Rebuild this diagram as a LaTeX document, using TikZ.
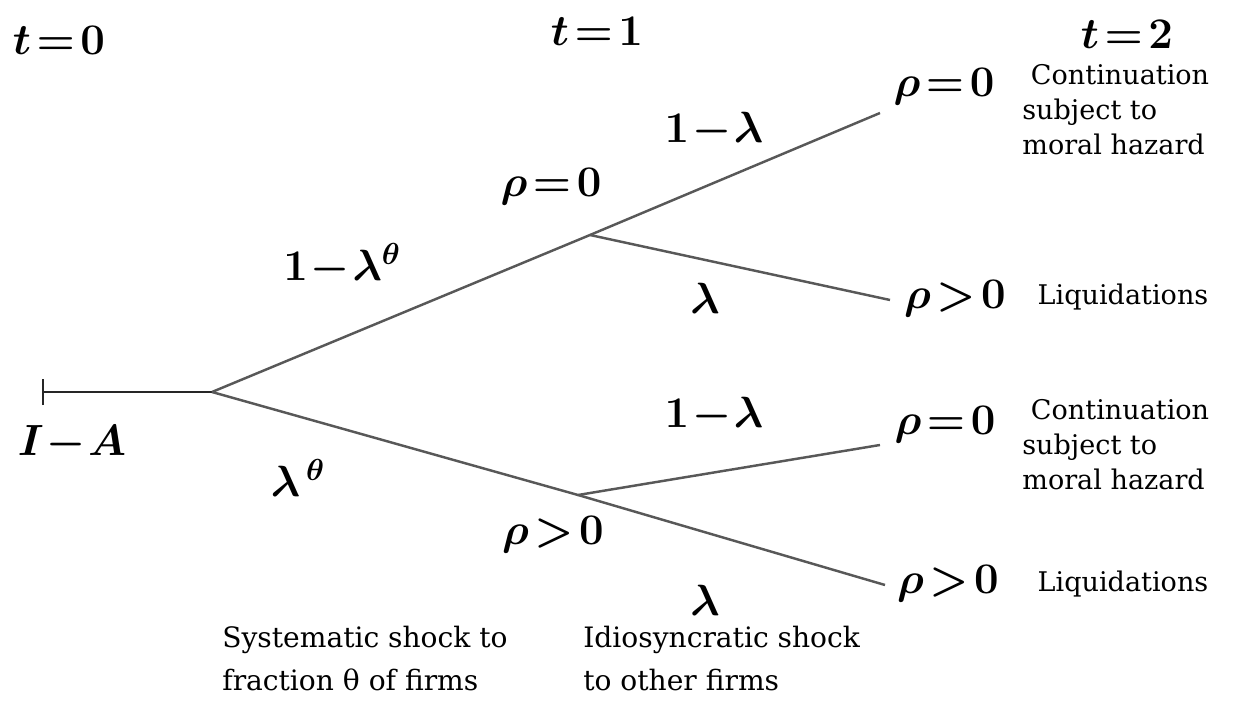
\documentclass[tikz,border=0pt]{standalone}
\usepackage{amsmath,amssymb}
\usepackage{fontspec}
\usetikzlibrary{arrows.meta}
\newfontfamily\notefont{DejaVu Serif}
\definecolor{branchgray}{RGB}{88,88,88}
\tikzset{
  branch/.style={draw=branchgray,line width=1.4pt},
  prob/.style={font=\fontsize{24}{28}\selectfont\boldmath,inner sep=0pt},
  note/.style={font=\notefont\fontsize{15.4}{19.8}\selectfont,align=left,inner sep=0pt},
  shocknote/.style={font=\notefont\fontsize{16}{24.4}\selectfont,align=left,inner sep=0pt},
}

\begin{document}
\begin{tikzpicture}[x=0.02cm,y=-0.02cm]
\useasboundingbox (0,0) rectangle (1241,712);
% branching points
\coordinate (start) at (42,392);
\coordinate (root) at (212,392);
\coordinate (up) at (590,235);
\coordinate (down) at (578,495);
\coordinate (upup) at (880,113);
\coordinate (updown) at (890,300);
\coordinate (downup) at (880,445);
\coordinate (downdown) at (885,585);
% the tree
\draw[line width=1.4pt,black!85,{Bar[width=15pt]}-] (start) -- (root);
\draw[branch] (root) -- (up) -- (upup);
\draw[branch] (up) -- (updown);
\draw[branch] (root) -- (down) -- (downup);
\draw[branch] (down) -- (downdown);
% dates
\node[prob] (t0) at (59,40) {$t\!=\!0$};
\node[prob] (t1) at (597,31) {$t\!=\!1$};
\node[prob] (t2) at (1127,34) {$t\!=\!2$};
\node[prob] (ia) at (72,443) {$I\!-\!A$};
% probabilities, first stage
\node[prob] (syshi) at (342,265) {$1\!-\!\lambda^{\theta}$};
\node[prob] (syslo) at (298,478) {$\lambda^{\,\theta}$};
\node[prob] (rhoup) at (551,187) {$\rho\!=\!0$};
\node[prob] (rhodown) at (553,535) {$\rho\!>\!0$};
% probabilities, second stage
\node[prob] (idhi1) at (714,130) {$1\!-\!\lambda$};
\node[prob] (idlo1) at (705,298) {$\lambda$};
\node[prob] (idhi2) at (714,415) {$1\!-\!\lambda$};
\node[prob] (idlo2) at (705,600) {$\lambda$};
% outcomes
\node[prob] (end1) at (944,87) {$\rho\!=\!0$};
\node[prob] (end2) at (955,299) {$\rho\!>\!0$};
\node[prob] (end3) at (945,425) {$\rho\!=\!0$};
\node[prob] (end4) at (948,584) {$\rho\!>\!0$};
\node[note,anchor=north west] (cont1) at (1022,64) {~Continuation\\subject to\\moral hazard};
\node[note] (liq1) at (1123,297) {Liquidations};
\node[note,anchor=north west] (cont2) at (1022,399) {~Continuation\\subject to\\moral hazard};
\node[note] (liq2) at (1123,584) {Liquidations};
% shocks
\node[shocknote,anchor=north west] (sysshock) at (222,626) {Systematic shock to\\fraction θ of firms};
\node[shocknote,anchor=north west] (idshock) at (583,626) {Idiosyncratic shock\\to other firms};
\end{tikzpicture}
\end{document}
